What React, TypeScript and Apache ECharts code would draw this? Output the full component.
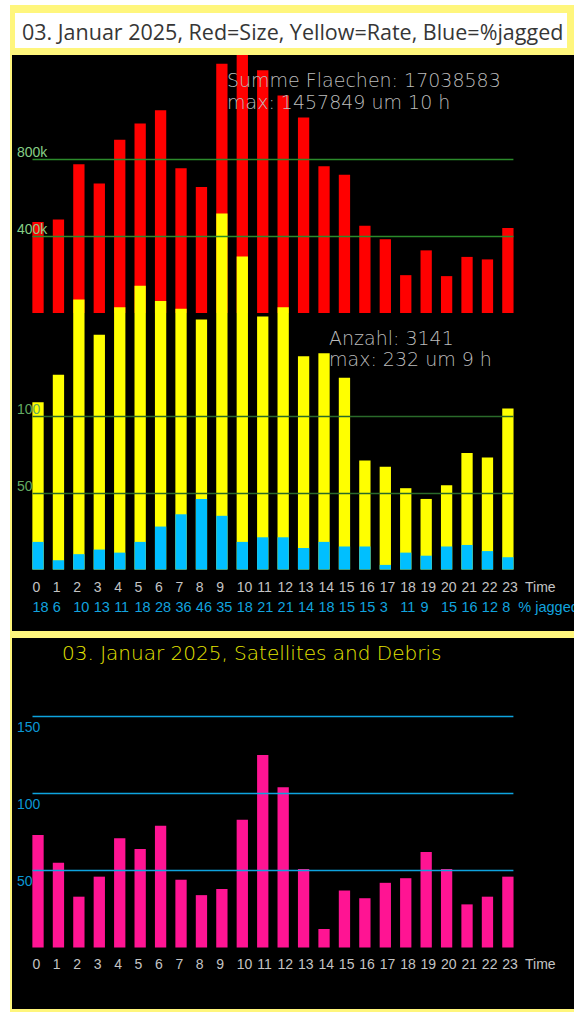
import React, { useEffect, useRef } from "react";
import * as echarts from "echarts";

// ---- data ----
const hours = ["0","1","2","3","4","5","6","7","8","9","10","11","12","13","14","15","16","17","18","19","20","21","22","23"];
const sizeValues = [474000, 487000, 774000, 674000, 902000, 987000, 1056000, 753000, 656000, 1297000, 1457849, 1264000, 1132000, 1018000, 764000, 720000, 454000, 384000, 197000, 326000, 192000, 292000, 279000, 443000];
const rateValues = [109, 127, 176, 153, 171, 185, 175, 170, 163, 232, 204, 165, 171, 139, 141, 125, 71, 67, 53, 46, 55, 76, 73, 105];
const jaggedValues = [18, 6, 10, 13, 11, 18, 28, 36, 46, 35, 18, 21, 21, 14, 18, 15, 15, 3, 11, 9, 15, 16, 12, 8];
const satValues = [73, 55, 33, 46, 71, 64, 79, 44, 34, 38, 83, 125, 104, 51, 12, 37, 32, 42, 45, 62, 51, 28, 33, 46];
const sizeTicks = [400000, 800000];
const rateTicks = [50, 100];
const satTicks = [50, 100, 150];

const titleTop = "03. Januar 2025, Red=Size, Yellow=Rate, Blue=%jagged";
const titleBottom = "03. Januar 2025, Satellites and Debris";
const sizeSumText = "Summe Flaechen: 17038583";
const sizeMaxText = "max: 1457849 um 10 h";
const rateSumText = "Anzahl: 3141";
const rateMaxText = "max: 232 um 9 h";

// ---- layout ----
const PLOT_LEFT = 27.8;
const PLOT_W = 490.3;
const LBL_LEFT = 22.2;
const BAR_W = 11.3;
const EDGE = 0.27;

const hiddenAxis = { show: false };

function gridLines(vals: number[]) {
  return vals.map((v) => [{ coord: [-EDGE, v] }, { coord: [23 + EDGE, v] }]);
}

function yLabel(vals: number[], color: string, fmt: (v: number) => string, vAlign: string, pad: number[]) {
  return {
    customValues: vals,
    formatter: fmt,
    color,
    fontSize: 14,
    fontFamily: "Liberation Sans",
    align: "left",
    verticalAlign: vAlign,
    padding: pad,
    margin: PLOT_LEFT - 17,
  };
}

const hourLabelStyle = { color: "#c4c4c4", fontSize: 14, fontFamily: "Liberation Sans" };
const jagLabelStyle = { color: "#12a3df", fontSize: 14.5, fontFamily: "Liberation Sans" };

function labelAxis(gridIndex: number, name: string, gap: number, style: any, fmt?: (v: string, i: number) => string) {
  const label: any = { ...style, interval: 0, margin: 0, align: "left", verticalAlign: "middle" };
  if (fmt) label.formatter = fmt;
  return {
    type: "category",
    gridIndex,
    z: 30,
    data: hours,
    boundaryGap: true,
    axisLine: { show: false },
    axisTick: { show: false },
    splitLine: { show: false },
    axisLabel: label,
    name,
    nameLocation: "end",
    nameGap: gap,
    nameMoveOverlap: false,
    nameTextStyle: { ...style, align: "left", verticalAlign: "middle" },
  };
}

const textFont = { fontFamily: "DejaVu Sans", fontWeight: 200 };

export default function App() {
  const ref = useRef<HTMLDivElement>(null);
  useEffect(() => {
    const chart = echarts.init(ref.current!, null, { renderer: "svg" });
    const option: any = {
      animation: false,
      backgroundColor: "#ffffff",
      grid: [
        { left: PLOT_LEFT, top: 55, width: PLOT_W, height: 258, outerBoundsMode: "none" },
        { left: PLOT_LEFT, top: 109.3, width: PLOT_W, height: 460.2, outerBoundsMode: "none" },
        { left: PLOT_LEFT, top: 639.5, width: PLOT_W, height: 308, outerBoundsMode: "none" },
        { left: LBL_LEFT, top: 500, width: PLOT_W, height: 87, outerBoundsMode: "none" },
        { left: LBL_LEFT, top: 500, width: PLOT_W, height: 106.7, outerBoundsMode: "none" },
        { left: LBL_LEFT, top: 900, width: PLOT_W, height: 64, outerBoundsMode: "none" },
      ],
      xAxis: [
        { type: "category", gridIndex: 0, data: hours, ...hiddenAxis },
        { type: "value", gridIndex: 0, min: -0.5, max: 23.5, ...hiddenAxis },
        { type: "category", gridIndex: 1, data: hours, ...hiddenAxis },
        { type: "value", gridIndex: 1, min: -0.5, max: 23.5, ...hiddenAxis },
        { type: "category", gridIndex: 2, data: hours, ...hiddenAxis },
        { type: "value", gridIndex: 2, min: -0.5, max: 23.5, ...hiddenAxis },
        labelAxis(3, "Time", 12.5, hourLabelStyle),
        labelAxis(4, "% jagged", 5.8, jagLabelStyle, (_v: string, i: number) => String(jaggedValues[i])),
        labelAxis(5, "Time", 12.5, hourLabelStyle),
      ],
      yAxis: [
        {
          type: "value", gridIndex: 0, min: 0, max: 1343000, z: 30,
          axisLine: { show: false }, axisTick: { show: false }, splitLine: { show: false },
          axisLabel: yLabel(sizeTicks, "#86cf86", (v: number) => v / 1000 + "k", "bottom", [0, 0, 0, 0]),
        },
        {
          type: "value", gridIndex: 1, min: 0, max: 300, z: 30,
          axisLine: { show: false }, axisTick: { show: false }, splitLine: { show: false },
          axisLabel: yLabel(rateTicks, "#62aa62", (v: number) => String(v), "bottom", [0, 0, 0, 0]),
        },
        {
          type: "value", gridIndex: 2, min: 0, max: 200, z: 30,
          axisLine: { show: false }, axisTick: { show: false }, splitLine: { show: false },
          axisLabel: yLabel(satTicks, "#0b97d3", (v: number) => String(v), "top", [3, 0, 0, 0]),
        },
        { type: "value", gridIndex: 3, ...hiddenAxis },
        { type: "value", gridIndex: 4, ...hiddenAxis },
        { type: "value", gridIndex: 5, ...hiddenAxis },
      ],
      series: [
        { type: "bar", name: "Size", xAxisIndex: 0, yAxisIndex: 0, data: sizeValues, barWidth: BAR_W, itemStyle: { color: "#ff0000" }, z: 2, clip: true },
        { type: "bar", name: "Rate", xAxisIndex: 2, yAxisIndex: 1, data: rateValues, barWidth: BAR_W, barGap: "-100%", itemStyle: { color: "#ffff00" }, z: 3 },
        { type: "bar", name: "Jagged", xAxisIndex: 2, yAxisIndex: 1, data: jaggedValues, barWidth: BAR_W, barGap: "-100%", itemStyle: { color: "#00bfff" }, z: 4 },
        { type: "bar", name: "Satellites", xAxisIndex: 4, yAxisIndex: 2, data: satValues, barWidth: BAR_W, itemStyle: { color: "#ff1493" }, z: 2 },
        {
          type: "line", xAxisIndex: 1, yAxisIndex: 0, data: [], silent: true,
          markLine: { symbol: "none", silent: true, z: 6, label: { show: false }, lineStyle: { color: "#2b8a2b", width: 1.3, type: "solid" }, data: gridLines(sizeTicks) },
        },
        {
          type: "line", xAxisIndex: 3, yAxisIndex: 1, data: [], silent: true,
          markLine: { symbol: "none", silent: true, z: 6, label: { show: false }, lineStyle: { color: "#2a6a2a", width: 1.3, type: "solid" }, data: gridLines(rateTicks) },
        },
        {
          type: "line", xAxisIndex: 5, yAxisIndex: 2, data: [], silent: true,
          markLine: { symbol: "none", silent: true, z: 6, label: { show: false }, lineStyle: { color: "#0ea3de", width: 1.3, type: "solid" }, data: gridLines(satTicks) },
        },
      ],
      graphic: [
        { type: "rect", z: 0, silent: true, shape: { x: 10, y: 5, width: 564, height: 1007 }, style: { fill: "#fff67c" } },
        { type: "rect", z: 1, silent: true, shape: { x: 15, y: 13, width: 552, height: 35 }, style: { fill: "#ffffff" } },
        { type: "rect", z: 1, silent: true, shape: { x: 12, y: 55, width: 562, height: 576 }, style: { fill: "#000000" } },
        { type: "rect", z: 1, silent: true, shape: { x: 12, y: 638, width: 562, height: 371 }, style: { fill: "#000000" } },
        { type: "text", z: 20, x: 22, y: 31, style: { text: titleTop, fill: "#363636", fontSize: 21.5, fontFamily: "Open Sans", verticalAlign: "middle" } },
        { type: "text", z: 20, x: 227, y: 80, style: { text: sizeSumText, fill: "#bcbcbc", fontSize: 19, ...textFont, verticalAlign: "middle" } },
        { type: "text", z: 20, x: 227, y: 102, style: { text: sizeMaxText, fill: "#bcbcbc", fontSize: 19, ...textFont, verticalAlign: "middle" } },
        { type: "text", z: 20, x: 329, y: 338, style: { text: rateSumText, fill: "#bcbcbc", fontSize: 19, ...textFont, verticalAlign: "middle" } },
        { type: "text", z: 20, x: 329, y: 359, style: { text: rateMaxText, fill: "#bcbcbc", fontSize: 19, ...textFont, verticalAlign: "middle" } },
        { type: "text", z: 20, x: 62, y: 653, style: { text: titleBottom, fill: "#e6e600", fontSize: 20, ...textFont, verticalAlign: "middle" } },
      ],
    };
    chart.setOption(option);
    return () => chart.dispose();
  }, []);
  return <div ref={ref} style={{ position: "absolute", left: 0, top: 0, width: 574, height: 1012 }} />;
}
